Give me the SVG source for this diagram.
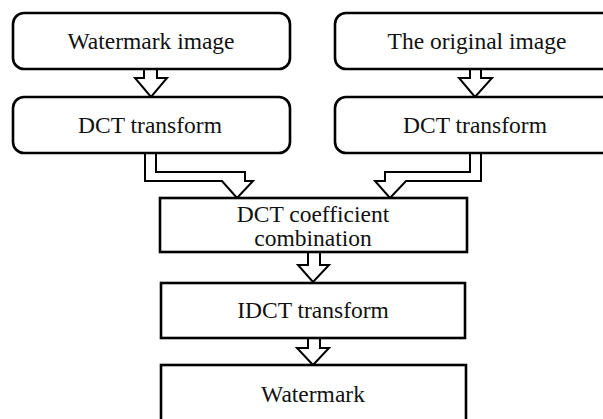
<svg xmlns="http://www.w3.org/2000/svg" width="603" height="419" viewBox="0 0 603 419">
<style>
.box{fill:#fff;stroke:#000;stroke-width:2.6}
.arr{fill:#fff;stroke:#000;stroke-width:2;stroke-linejoin:miter}
.t{font-family:"Liberation Serif","Times New Roman",serif;font-size:23.5px;fill:#111;text-anchor:middle}
</style>
<rect width="603" height="419" fill="#fff"/>
<g id="connectors">
<polygon class="arr" points="144,69 144,78 135,78 151,97 167,78 157,78 157,69"/>
<polygon class="arr" points="470,69 470,78 459,78 475,97 492,78 481,78 481,69"/>
<polygon class="arr" points="145,153 145,181 222,181 237,198 253,181 245,181 245,172 156,172 156,153"/>
<polygon class="arr" points="481,153 481,181 406,181 390,198 375,181 385,181 385,172 470,172 470,153"/>
<polygon class="arr" points="308,252 308,265 298,265 313,282 329,265 320,265 320,252"/>
<polygon class="arr" points="308,338 308,348 297,348 313,365 329,348 320,348 320,338"/>
</g>
<g id="n1"><rect class="box" x="13" y="13" width="277" height="56" rx="11"/><text class="t" x="151" y="49">Watermark image</text></g>
<g id="n2"><rect class="box" x="335" y="13" width="290" height="56" rx="11"/><text class="t" x="477" y="49">The original image</text></g>
<g id="n3"><rect class="box" x="13" y="97" width="277" height="56" rx="11"/><text class="t" x="150" y="133">DCT transform</text></g>
<g id="n4"><rect class="box" x="335" y="97" width="290" height="56" rx="11"/><text class="t" x="475" y="133">DCT transform</text></g>
<g id="n5"><rect class="box" x="160" y="198" width="307" height="54"/><text class="t" x="313" y="222">DCT coefficient</text><text class="t" x="313" y="246">combination</text></g>
<g id="n6"><rect class="box" x="161" y="283" width="304" height="55"/><text class="t" x="313" y="318">IDCT transform</text></g>
<g id="n7"><rect class="box" x="161" y="365" width="305" height="70"/><text class="t" x="313" y="402">Watermark</text></g>
</svg>
